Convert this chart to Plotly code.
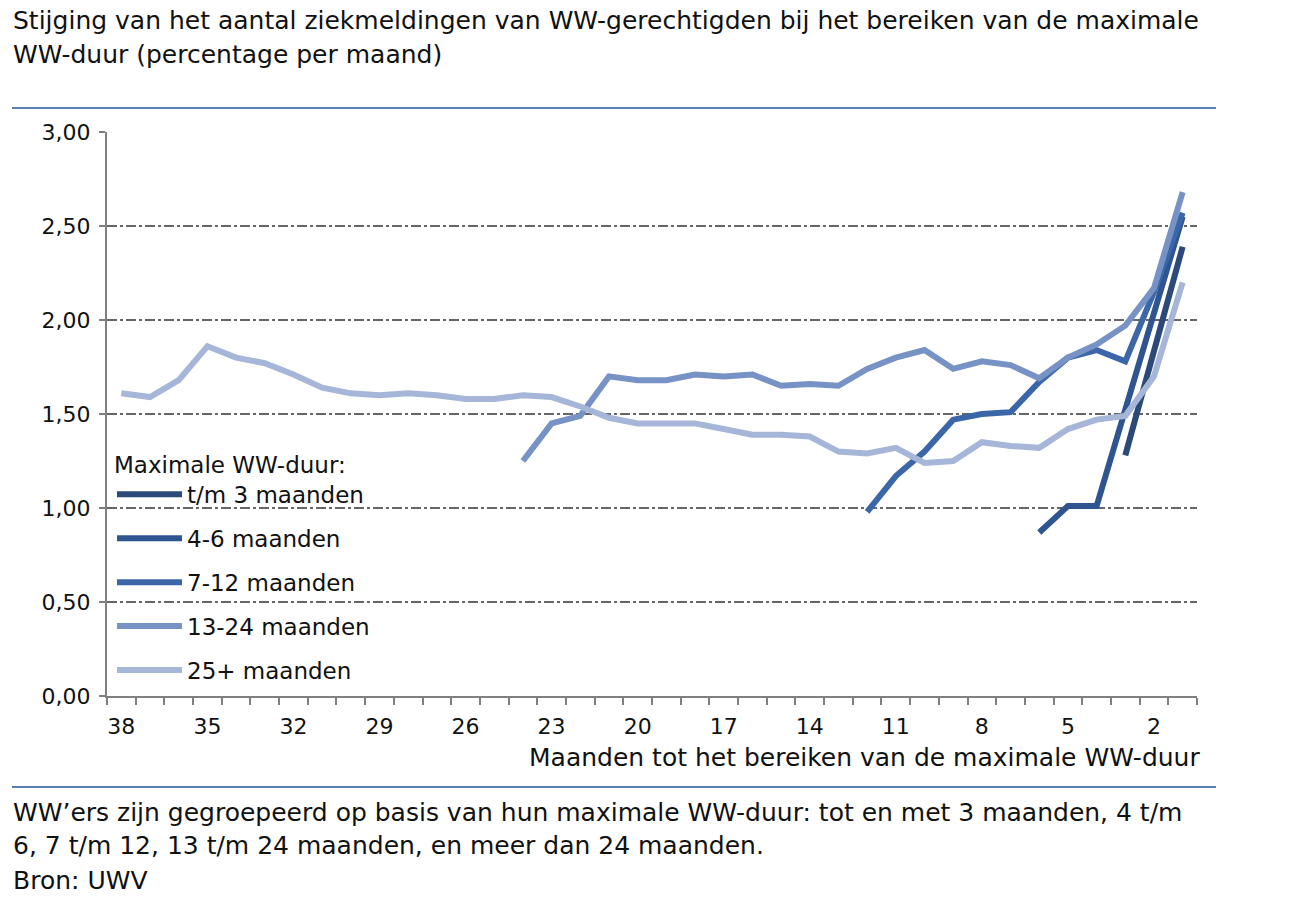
import plotly.graph_objects as go

# months to reaching maximum WW duration (38 .. 1)
months_25 = list(range(38, 0, -1))
val_25 = [1.61, 1.59, 1.68, 1.86, 1.80, 1.77, 1.71, 1.64, 1.61, 1.60, 1.61, 1.60, 1.58, 1.58,
          1.60, 1.59, 1.54, 1.48, 1.45, 1.45, 1.45, 1.42, 1.39, 1.39, 1.38, 1.30, 1.29, 1.32,
          1.24, 1.25, 1.35, 1.33, 1.32, 1.42, 1.47, 1.49, 1.70, 2.20]

months_13_24 = list(range(24, 0, -1))
val_13_24 = [1.25, 1.45, 1.49, 1.70, 1.68, 1.68, 1.71, 1.70, 1.71, 1.65, 1.66, 1.65, 1.74,
             1.80, 1.84, 1.74, 1.78, 1.76, 1.69, 1.80, 1.87, 1.97, 2.17, 2.68]

months_7_12 = list(range(12, 0, -1))
val_7_12 = [0.98, 1.17, 1.30, 1.47, 1.50, 1.51, 1.67, 1.80, 1.84, 1.78, 2.15, 2.57]

months_4_6 = list(range(6, 0, -1))
val_4_6 = [0.87, 1.01, 1.01, 1.52, 2.02, 2.55]

months_3 = [3, 2, 1]
val_3 = [1.28, 1.84, 2.39]

series = [
    ("t/m 3 maanden", months_3, val_3, "#2b4a7a"),
    ("4-6 maanden", months_4_6, val_4_6, "#2f5590"),
    ("7-12 maanden", months_7_12, val_7_12, "#3b66a8"),
    ("13-24 maanden", months_13_24, val_13_24, "#7792c5"),
    ("25+ maanden", months_25, val_25, "#a6b6d8"),
]

xtick_vals = list(range(38, 0, -3))
ytick_vals = [0, 0.5, 1.0, 1.5, 2.0, 2.5, 3.0]

FONT = "DejaVu Sans"

fig = go.Figure()
for i, (name, xs, ys, col) in enumerate(series):
    fig.add_trace(go.Scatter(x=xs, y=ys, name=name, mode="lines",
                             line=dict(color=col, width=6),
                             legendgroup=f"g{i}"))

W, H = 1299, 901
L, R, T, B = 107, 102, 132, 205
pw, ph = W - L - R, H - T - B


def px(x):
    return (x - L) / pw


def py(y):
    return (H - B - y) / ph


annotations = [
    dict(text="Stijging van het aantal ziekmeldingen van WW-gerechtigden bij het bereiken van de maximale",
         x=px(11), y=py(21), xanchor="left", yanchor="middle"),
    dict(text="WW-duur (percentage per maand)", x=px(11), y=py(55), xanchor="left", yanchor="middle"),
    dict(text="Maanden tot het bereiken van de maximale WW-duur", x=px(1202), y=py(757),
         xanchor="right", yanchor="middle"),
    dict(text="WW\u2019ers zijn gegroepeerd op basis van hun maximale WW-duur: tot en met 3 maanden, 4 t/m",
         x=px(11), y=py(812), xanchor="left", yanchor="middle"),
    dict(text="6, 7 t/m 12, 13 t/m 24 maanden, en meer dan 24 maanden.", x=px(11), y=py(845),
         xanchor="left", yanchor="middle"),
    dict(text="Bron: UWV", x=px(11), y=py(880), xanchor="left", yanchor="middle"),
]
for a in annotations:
    a.update(xref="paper", yref="paper", showarrow=False,
             font=dict(family=FONT, size=25, color="#111111"))

shapes = [
    dict(type="line", xref="paper", yref="paper", x0=px(12), x1=px(1216), y0=py(108), y1=py(108),
         line=dict(color="#5a7eae", width=2)),
    dict(type="line", xref="paper", yref="paper", x0=px(12), x1=px(1216), y0=py(787), y1=py(787),
         line=dict(color="#5a7eae", width=2)),
]

fig.update_layout(
    width=W, height=H,
    margin=dict(l=L, r=R, t=T, b=B, autoexpand=False),
    paper_bgcolor="white", plot_bgcolor="white",
    separators=",.",
    font=dict(family=FONT, size=22, color="#111111"),
    showlegend=True,
    legend=dict(
        title=dict(text="Maximale WW-duur:", font=dict(family=FONT, size=23)),
        x=px(112), y=py(443), xanchor="left", yanchor="top",
        bgcolor="rgba(0,0,0,0)", tracegroupgap=11, itemwidth=65,
        font=dict(family=FONT, size=23),
    ),
    annotations=annotations,
    shapes=shapes,
)

fig.update_xaxes(
    range=[38.5, 0.5], tickmode="array", tickvals=xtick_vals,
    ticks="", showgrid=False, zeroline=False,
    showline=True, linecolor="#808080", linewidth=2,
    tickfont=dict(family=FONT, size=22), ticklabelstandoff=10,
    minor=dict(tickmode="linear", tick0=0.5, dtick=1, ticks="outside", ticklen=7,
               tickcolor="#808080", tickwidth=2, showgrid=False),
)
fig.update_yaxes(
    range=[0, 3], tickmode="array", tickvals=ytick_vals, tickformat=".2f",
    ticks="outside", ticklen=6, tickcolor="#808080", tickwidth=2,
    showline=True, linecolor="#808080", linewidth=2,
    showgrid=True, gridcolor="#666666", gridwidth=2, griddash="10px,3px,3px,3px",
    zeroline=False, tickfont=dict(family=FONT, size=22), ticklabelstandoff=4,
)

fig.write_html("out.html")
